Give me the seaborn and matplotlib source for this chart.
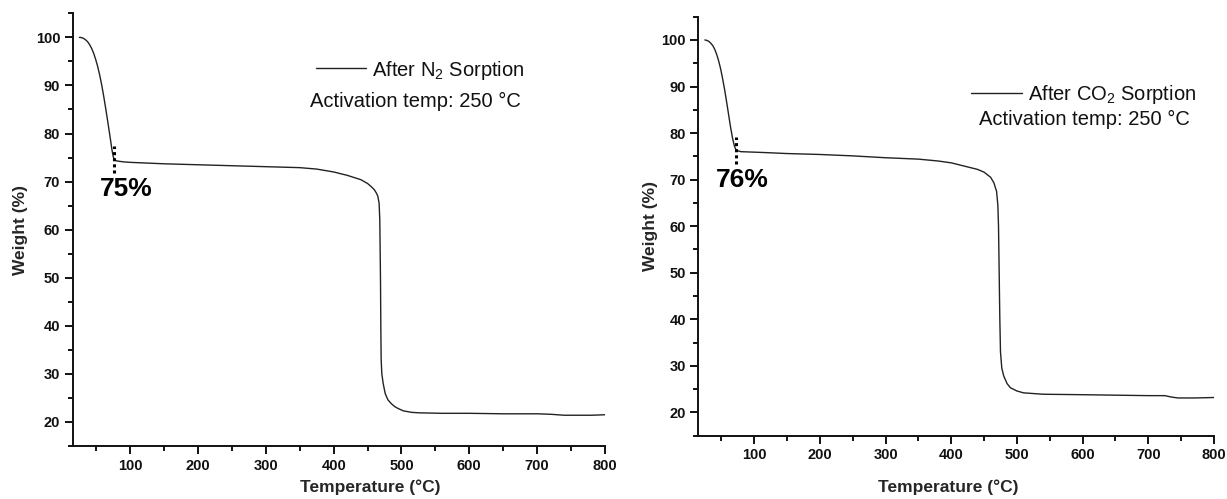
import matplotlib
matplotlib.use("Agg")
import matplotlib.pyplot as plt
import seaborn as sns
import numpy as np
import pandas as pd
from matplotlib.ticker import MultipleLocator

# ---------------- data ----------------
n2_temp = [25, 28, 31, 34, 37, 40, 43, 46, 49, 52, 55, 58, 61, 64, 67, 70, 73, 75, 77,
           80, 90, 100, 150, 200, 250, 300, 350, 375, 400, 420, 440, 450, 455, 460, 463,
           465, 467, 468, 469, 469.5, 470, 471, 473, 476, 480, 485, 490, 495, 503, 515,
           526, 560, 600, 650, 700, 720, 740, 760, 780, 800]
n2_weight = [100, 99.95, 99.8, 99.5, 99.1, 98.5, 97.7, 96.7, 95.4, 93.9, 92.1, 90.0, 87.6,
             85.0, 82.3, 79.5, 76.6, 75.1, 74.5, 74.3, 74.1, 74.0, 73.7, 73.5, 73.3,
             73.1, 72.9, 72.6, 72.0, 71.3, 70.4, 69.6, 69.0, 68.3, 67.6, 67.0, 65.5,
             62.0, 50.0, 40.0, 33.0, 30.0, 28.0, 25.9, 24.6, 23.8, 23.2, 22.8, 22.3,
             22.0, 21.9, 21.8, 21.8, 21.7, 21.7, 21.6, 21.4, 21.4, 21.4, 21.5]

co2_temp = [25, 28, 31, 34, 37, 40, 43, 46, 49, 52, 55, 58, 61, 64, 67, 70, 72, 75, 80,
            100, 118, 150, 200, 250, 300, 350, 380, 400, 420, 440, 450, 460, 465, 469,
            471, 472, 473, 474, 475, 477, 480, 485, 490, 500, 510, 540, 600, 650, 700,
            725, 735, 745, 770, 800]
co2_weight = [100, 99.9, 99.7, 99.3, 98.8, 98.0, 96.9, 95.5, 93.8, 91.7, 89.4, 86.8, 84.1,
              81.4, 79.0, 77.2, 76.5, 76.2, 76.0, 75.9, 75.8, 75.6, 75.4, 75.1, 74.7,
              74.4, 74.0, 73.6, 72.9, 72.2, 71.6, 70.5, 69.3, 67.5, 64.5, 60.0, 50.0,
              40.0, 33.0, 29.5, 27.8, 26.2, 25.3, 24.6, 24.2, 23.9, 23.8, 23.7, 23.6,
              23.6, 23.3, 23.1, 23.1, 23.2]

# residual-mass markers: temperature, dotted-line span, label and label position
n2_mark_temp = 76.4
n2_mark_span = [71.7, 77.3]
n2_mark_label = "75%"
n2_label_pos = (94.1, 68.4)

co2_mark_temp = 72.1
co2_mark_span = [73.4, 79.1]
co2_mark_label = "76%"
co2_label_pos = (82.5, 70.0)

x_ticks = [100, 200, 300, 400, 500, 600, 700, 800]
y_ticks = [20, 30, 40, 50, 60, 70, 80, 90, 100]

# ---------------- style ----------------
sns.set_style("ticks")
plt.rcParams["font.family"] = ["Liberation Sans", "DejaVu Sans"]
plt.rcParams["mathtext.fontset"] = "custom"
plt.rcParams["mathtext.rm"] = "Liberation Sans"
plt.rcParams["mathtext.it"] = "Liberation Sans:italic"
plt.rcParams["mathtext.bf"] = "Liberation Sans:bold"

fig = plt.figure(figsize=(12.27, 4.99), dpi=100)
ax_l = fig.add_axes([0.0592, 0.1062, 0.4338, 0.8671])
ax_r = fig.add_axes([0.5691, 0.1269, 0.4203, 0.8397])

df_n2 = pd.DataFrame({"Temperature": n2_temp, "Weight": n2_weight})
df_co2 = pd.DataFrame({"Temperature": co2_temp, "Weight": co2_weight})

line_color = "#222222"
sns.lineplot(data=df_n2, x="Temperature", y="Weight", ax=ax_l, color=line_color,
             linewidth=1.0, sort=False, label="After N$_2$ Sorption")
sns.lineplot(data=df_co2, x="Temperature", y="Weight", ax=ax_r, color=line_color,
             linewidth=1.0, sort=False, label="After CO$_2$ Sorption")

panels = [
    (ax_l, n2_mark_temp, n2_mark_span, n2_mark_label, n2_label_pos,
     (0.457, 0.869), (0.4458, 0.7957), (0.5585, -0.078), (-0.083, 0.5)),
    (ax_r, co2_mark_temp, co2_mark_span, co2_mark_label, co2_label_pos,
     (0.5296, 0.8131), (0.5443, 0.7551), (0.484, -0.105), (-0.079, 0.5)),
]

for ax, mt, mspan, mlab, mpos, leg_xy, act_xy, xl_xy, yl_xy in panels:
    ax.set_xlim(15, 800)
    ax.set_ylim(15, 105)
    ax.set_xticks(x_ticks)
    ax.set_yticks(y_ticks)
    ax.xaxis.set_minor_locator(MultipleLocator(50))
    ax.yaxis.set_minor_locator(MultipleLocator(5))
    for s in ["top", "right"]:
        ax.spines[s].set_visible(False)
    for s in ["left", "bottom"]:
        ax.spines[s].set_linewidth(1.4)
        ax.spines[s].set_color("#111111")
    ax.tick_params(which="major", direction="out", length=5.5, width=1.4,
                   labelsize=10.5, pad=3.5, colors="#111111")
    ax.tick_params(which="minor", direction="out", length=3.5, width=1.4,
                   colors="#111111")
    for lab in ax.get_xticklabels() + ax.get_yticklabels():
        lab.set_fontweight("bold")

    ax.set_xlabel("Temperature (\u00b0C)", fontsize=12.5, fontweight="bold")
    ax.set_ylabel("Weight (%)", fontsize=12.5, fontweight="bold")
    ax.xaxis.set_label_coords(*xl_xy)
    ax.yaxis.set_label_coords(*yl_xy)

    # dotted marker + percentage label
    ax.plot([mt, mt], mspan, linestyle=(0, (1, 1)), color="black", linewidth=2.2)
    ax.text(mpos[0], mpos[1], mlab, fontsize=19, fontweight="bold",
            ha="center", va="center", color="black")

    leg = ax.legend(loc="center left", bbox_to_anchor=leg_xy, frameon=False,
                    fontsize=14.5, handlelength=2.5, handletextpad=0.3,
                    borderpad=0, borderaxespad=0)
    for t in leg.get_texts():
        t.set_color("#111111")
    ax.text(act_xy[0], act_xy[1], "Activation temp: 250 \u00b0C", transform=ax.transAxes,
            fontsize=14.5, ha="left", va="center", color="#111111")

fig.savefig("out.png", dpi=100)
